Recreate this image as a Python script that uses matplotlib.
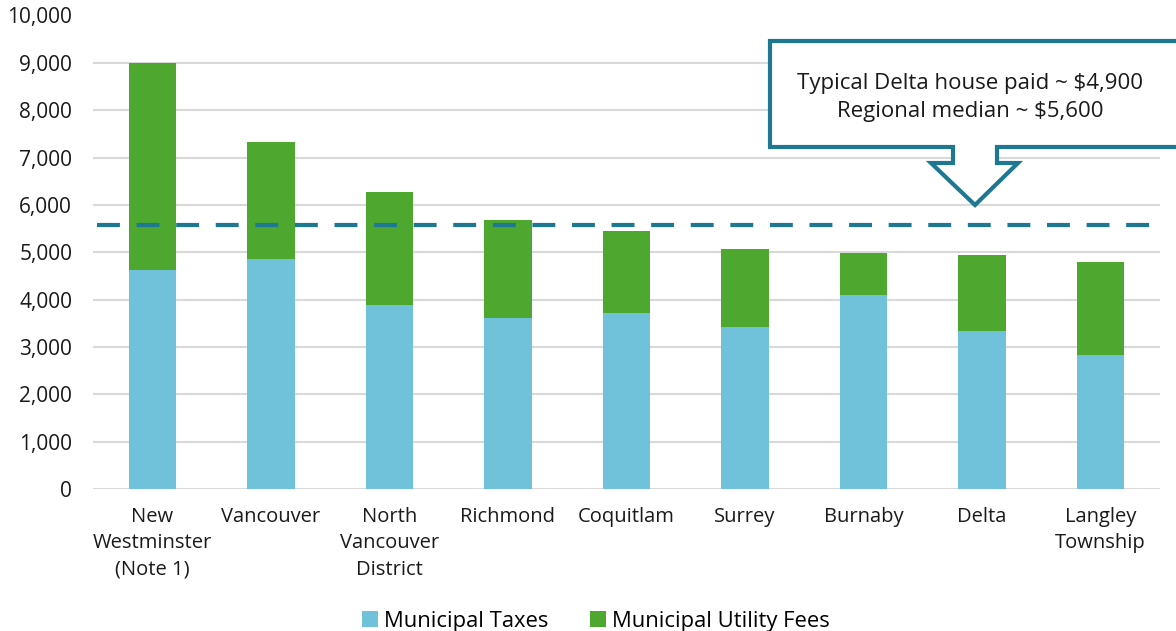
import numpy as np
import matplotlib.pyplot as plt
from matplotlib.patches import Polygon

# municipal charges for a typical house, by municipality
cities = ['New\nWestminster\n(Note 1)', 'Vancouver', 'North\nVancouver\nDistrict',
          'Richmond', 'Coquitlam', 'Surrey', 'Burnaby', 'Delta', 'Langley\nTownship']
taxes = [4615, 4860, 3895, 3610, 3720, 3415, 4090, 3335, 2825]
totals = [9000, 7325, 6275, 5680, 5440, 5060, 4975, 4940, 4785]
fees = [t - x for t, x in zip(totals, taxes)]
median = 5565

blue = '#70C1DA'
green = '#4EA72E'
teal = '#1F7891'

plt.rcParams['font.family'] = ['Open Sans', 'DejaVu Sans']

W, H = 1176, 631
fig = plt.figure(figsize=(W / 100, H / 100), dpi=100)
ax = fig.add_axes([93 / W, 1 - 489 / H, (1160 - 93) / W, (489 - 15.5) / H])

x = np.arange(len(cities))
ax.bar(x, taxes, width=0.4, color=blue, label='Municipal Taxes', zorder=2)
ax.bar(x, fees, width=0.4, bottom=taxes, color=green, label='Municipal Utility Fees', zorder=2)

ax.plot([-0.47, len(cities) - 0.5], [median, median], color=teal, lw=3,
        dashes=(5.5, 4), zorder=3)

ax.set_xlim(-0.5, len(cities) - 0.5)
ax.set_ylim(0, 10000)
ax.set_yticks(range(0, 10001, 1000))
ax.set_yticklabels([f'{v:,}' for v in range(0, 10001, 1000)])
ax.grid(axis='y', color='#D9D9D9', lw=1.5, zorder=0)
ax.set_xticks(x)
ax.set_xticklabels(cities, linespacing=1.42)
ax.tick_params(length=0, colors='#1a1a1a')
ax.tick_params(axis='y', pad=15, labelsize=15)
ax.tick_params(axis='x', pad=13, labelsize=14.5)
for s in ax.spines.values():
    s.set_visible(False)

# callout box with downward arrow (figure pixel coordinates)
pts = [(770, 41), (1185, 41), (1185, 147), (997, 147), (997, 163), (1018, 163),
       (975, 205), (931, 163), (953, 163), (953, 147), (770, 147)]
pts = [(px / W, 1 - py / H) for px, py in pts]
fig.patches.append(Polygon(pts, closed=True, transform=fig.transFigure,
                           facecolor='white', edgecolor=teal, lw=3, zorder=5))
fig.text(970 / W, 1 - 83 / H, 'Typical Delta house paid ~ $4,900', ha='center',
         va='center', fontsize=16, color='#1a1a1a', zorder=6)
fig.text(970 / W, 1 - 112 / H, 'Regional median ~ $5,600', ha='center',
         va='center', fontsize=16, color='#1a1a1a', zorder=6)

fig.legend(loc='center', bbox_to_anchor=(596 / W, 1 - 621 / H), ncol=2,
           frameon=False, fontsize=15.8, handlelength=0.7, handleheight=0.7,
           handletextpad=0.3, columnspacing=1.9)

fig.savefig('out.png', dpi=100)
